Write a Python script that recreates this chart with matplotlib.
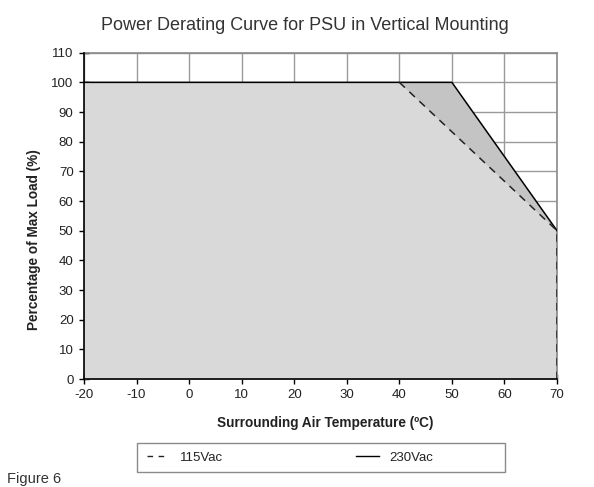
import matplotlib
matplotlib.use("Agg")
import matplotlib.pyplot as plt
from matplotlib.lines import Line2D
from matplotlib.patches import Rectangle

plt.rcParams['font.family'] = ['Liberation Sans', 'DejaVu Sans']

# Data
temp_115 = [-20, 40, 70, 70]
load_115 = [100, 100, 50, 0]
temp_230 = [-20, 50, 70, 70]
load_230 = [100, 100, 50, 0]
x_ticks = [-20, -10, 0, 10, 20, 30, 40, 50, 60, 70]
y_ticks = [0, 10, 20, 30, 40, 50, 60, 70, 80, 90, 100, 110]
series_labels = ['115Vac', '230Vac']

W, H = 594, 487
fig = plt.figure(figsize=(W/100, H/100), dpi=100)
ax = fig.add_axes([84/W, 1-379/H, (557-84)/W, (379-52.7)/H])

# fills
ax.fill_between(temp_230[:3], load_230[:3], 0, color='#c4c4c4', lw=0, zorder=2)
ax.fill_between(temp_115[:3], load_115[:3], 0, color='#d9d9d9', lw=0, zorder=2.1)

# lines
ax.plot(temp_230[:3], load_230[:3], color='black', lw=1.1, zorder=4)
ax.plot(temp_115[1:], load_115[1:], color='#222222', lw=1.1, ls=(0, (5, 4)), zorder=4)

ax.set_xlim(-20, 70)
ax.set_ylim(0, 110)
ax.set_xticks(x_ticks)
ax.set_yticks(y_ticks)
ax.set_xticklabels([str(v) for v in x_ticks])
ax.set_yticklabels([str(v) for v in y_ticks])
ax.grid(True, color='#9a9a9a', lw=1.0, zorder=1)
ax.set_axisbelow(True)
ax.tick_params(direction='inout', length=7, width=1, color='black',
               labelsize=9.5, labelcolor='#222222', pad=4)
for s in ['left', 'bottom']:
    ax.spines[s].set_color('black')
    ax.spines[s].set_linewidth(1.2)
    ax.spines[s].set_zorder(5)
for s in ['top', 'right']:
    ax.spines[s].set_color('#8a8a8a')
    ax.spines[s].set_linewidth(1.2)

fig.text(305/W, 1-26/H, 'Power Derating Curve for PSU in Vertical Mounting',
         ha='center', va='center', fontsize=13, color='#333333')
fig.text(325/W, 1-423/H, 'Surrounding Air Temperature (ºC)',
         ha='center', va='center', fontsize=9.8, fontweight='bold', color='#222222')
fig.text(34/W, 1-240/H, 'Percentage of Max Load (%)', rotation=90,
         ha='center', va='center', fontsize=9.8, fontweight='bold', color='#222222')
fig.text(7/W, 1-479/H, 'Figure 6', ha='left', va='center', fontsize=10.5, color='#333333')

# legend frame
fig.patches.append(Rectangle((137/W, 1-472/H), (505-137)/W, 29/H,
                             transform=fig.transFigure, fill=False,
                             edgecolor='#8a8a8a', lw=1.0))
handles = [Line2D([], [], color='#222222', lw=1.0, ls=(0, (4, 4))),
           Line2D([], [], color='black', lw=1.0)]
leg = fig.legend(handles, series_labels, ncol=2,
                 loc='center left', bbox_to_anchor=(147/W, 1-457.5/H),
                 frameon=False, fontsize=9.5, handlelength=1.7,
                 handletextpad=0.8, columnspacing=10.1, borderaxespad=0,
                 borderpad=0)
for t in leg.get_texts():
    t.set_color('#222222')

fig.savefig('out.png', dpi=100)
